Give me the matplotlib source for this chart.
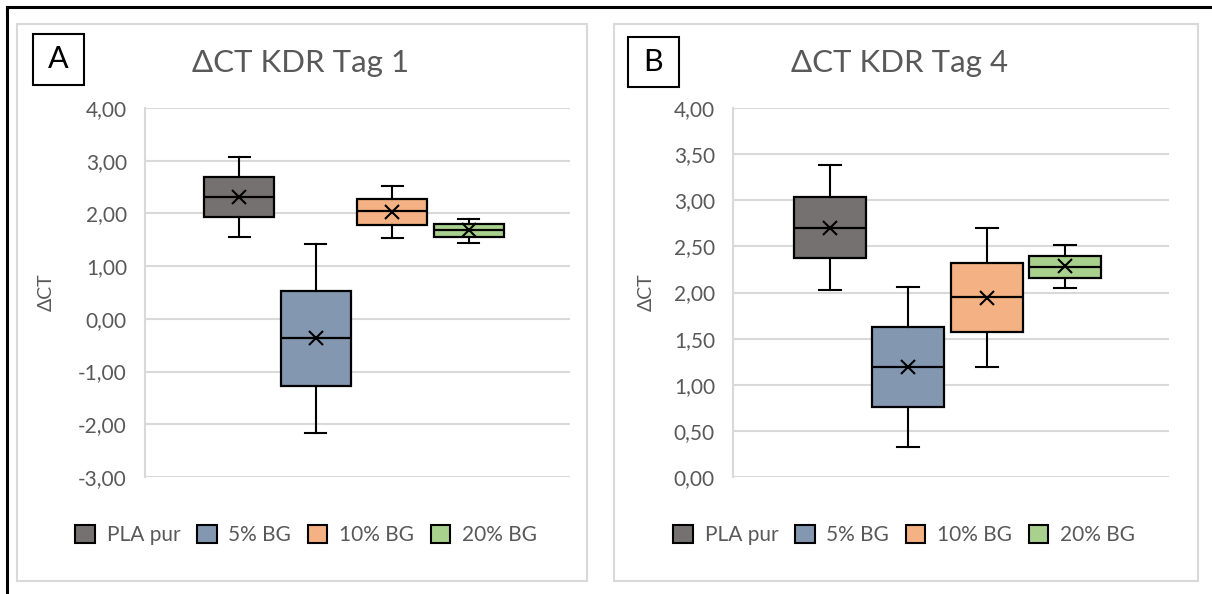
import matplotlib
matplotlib.use("Agg")
import matplotlib.pyplot as plt
from matplotlib.patches import Rectangle, Patch
from matplotlib.lines import Line2D
from matplotlib.ticker import FuncFormatter

plt.rcParams['font.family'] = ['Lato', 'DejaVu Sans']

groups = ["PLA pur", "5% BG", "10% BG", "20% BG"]
colors = ["#767171", "#8497B0", "#F4B183", "#A9D18E"]

# Tag 1: whisker low, Q1, median, Q3, whisker high, mean
t1_lo = [1.55, -2.16, 1.54, 1.44]
t1_q1 = [1.93, -1.27, 1.78, 1.55]
t1_med = [2.32, -0.37, 2.04, 1.68]
t1_q3 = [2.69, 0.52, 2.27, 1.79]
t1_hi = [3.07, 1.42, 2.52, 1.89]
t1_mean = [2.32, -0.37, 2.03, 1.68]

# Tag 4
t4_lo = [2.03, 0.32, 1.19, 2.05]
t4_q1 = [2.37, 0.76, 1.57, 2.16]
t4_med = [2.70, 1.19, 1.95, 2.28]
t4_q3 = [3.04, 1.63, 2.32, 2.40]
t4_hi = [3.38, 2.06, 2.70, 2.52]
t4_mean = [2.70, 1.19, 1.94, 2.29]

W, H = 1212, 594
fig = plt.figure(figsize=(W / 100, H / 100), dpi=100)
txt = "#595959"
grid = "#D9D9D9"


def fx(px):
    return px / W


def fy(py):
    return (H - py) / H


def comma(v, pos):
    return f"{v:.2f}".replace(".", ",")


# outer frame lines
fig.add_artist(Line2D([fx(7), 1], [fy(7), fy(7)], color="black", lw=2.2, transform=fig.transFigure))
fig.add_artist(Line2D([fx(7), fx(7)], [fy(7), 0], color="black", lw=2.2, transform=fig.transFigure))


def panel(px0, px1, axx0, axx1, lo, q1, med, q3, hi, mean, ylim, step, title, title_x,
          letter, lbox, ylab_x, leg_x):
    fig.add_artist(Rectangle((fx(px0), fy(581)), fx(px1 - px0), (581 - 24) / H,
                             transform=fig.transFigure, fill=False, ec=grid, lw=1.5))
    ax = fig.add_axes([fx(axx0), fy(477), fx(axx1 - axx0), (477 - 108) / H])
    stats = []
    for i in range(len(groups)):
        stats.append(dict(whislo=lo[i], q1=q1[i], med=med[i], q3=q3[i], whishi=hi[i],
                          mean=mean[i], fliers=[]))
    pos = [0.492 + (i - 1.5) * 0.18 for i in range(len(groups))]
    bp = ax.bxp(stats, positions=pos, widths=0.165, showmeans=True, patch_artist=True,
                capwidths=0.05,
                boxprops=dict(edgecolor="black", linewidth=1.6),
                medianprops=dict(color="black", linewidth=1.6),
                whiskerprops=dict(color="black", linewidth=1.5),
                capprops=dict(color="black", linewidth=1.5),
                meanprops=dict(marker="x", markeredgecolor="black", markersize=10,
                               markeredgewidth=1.5))
    for b, c in zip(bp["boxes"], colors):
        b.set_facecolor(c)
    ax.set_xlim(0, 1)
    ax.set_ylim(*ylim)
    yt = []
    v = ylim[0]
    while v <= ylim[1] + 1e-9:
        yt.append(round(v, 2))
        v += step
    ax.set_yticks(yt)
    ax.yaxis.set_major_formatter(FuncFormatter(comma))
    ax.set_xticks([])
    ax.grid(axis="y", color=grid, lw=1.5)
    ax.set_axisbelow(True)
    for s in ["top", "right", "bottom"]:
        ax.spines[s].set_visible(False)
    ax.spines["left"].set_color(grid)
    ax.spines["left"].set_linewidth(1.5)
    ax.tick_params(axis="y", length=0, pad=13, labelsize=15, labelcolor=txt)
    ax.patch.set_alpha(0)

    fig.text(fx(title_x), fy(63), title, ha="center", va="center", fontsize=22.5, color=txt)
    fig.text(fx(ylab_x), fy(292), "ΔCT", rotation=90, ha="center", va="center",
             fontsize=14, color=txt)
    bx0, by0, bx1, by1 = lbox
    fig.add_artist(Rectangle((fx(bx0), fy(by1)), fx(bx1 - bx0), (by1 - by0) / H,
                             transform=fig.transFigure, fill=False, ec="black", lw=1.5))
    fig.text(fx((bx0 + bx1) / 2), fy((by0 + by1) / 2), letter, ha="center", va="center",
             fontsize=22, color="black")

    handles = [Patch(facecolor=c, edgecolor="black", lw=1.5, label=g) for g, c in zip(groups, colors)]
    ax.legend(handles=handles, loc="center", bbox_to_anchor=(fx(leg_x), fy(535)),
              bbox_transform=fig.transFigure, ncol=4, frameon=False, fontsize=15,
              labelcolor=txt, handlelength=0.95, handleheight=0.95, handletextpad=0.55,
              columnspacing=0.8)
    return ax


panel(17, 587, 145, 570, t1_lo, t1_q1, t1_med, t1_q3, t1_hi, t1_mean, (-3, 4), 1.0,
      "ΔCT KDR Tag 1", 301, "A", (33, 34, 84, 85), 46, 306)
panel(614, 1198, 733, 1169, t4_lo, t4_q1, t4_med, t4_q3, t4_hi, t4_mean, (0, 4), 0.5,
      "ΔCT KDR Tag 4", 900, "B", (628, 37, 679, 87), 646, 904)

fig.savefig("out.png", dpi=100)
